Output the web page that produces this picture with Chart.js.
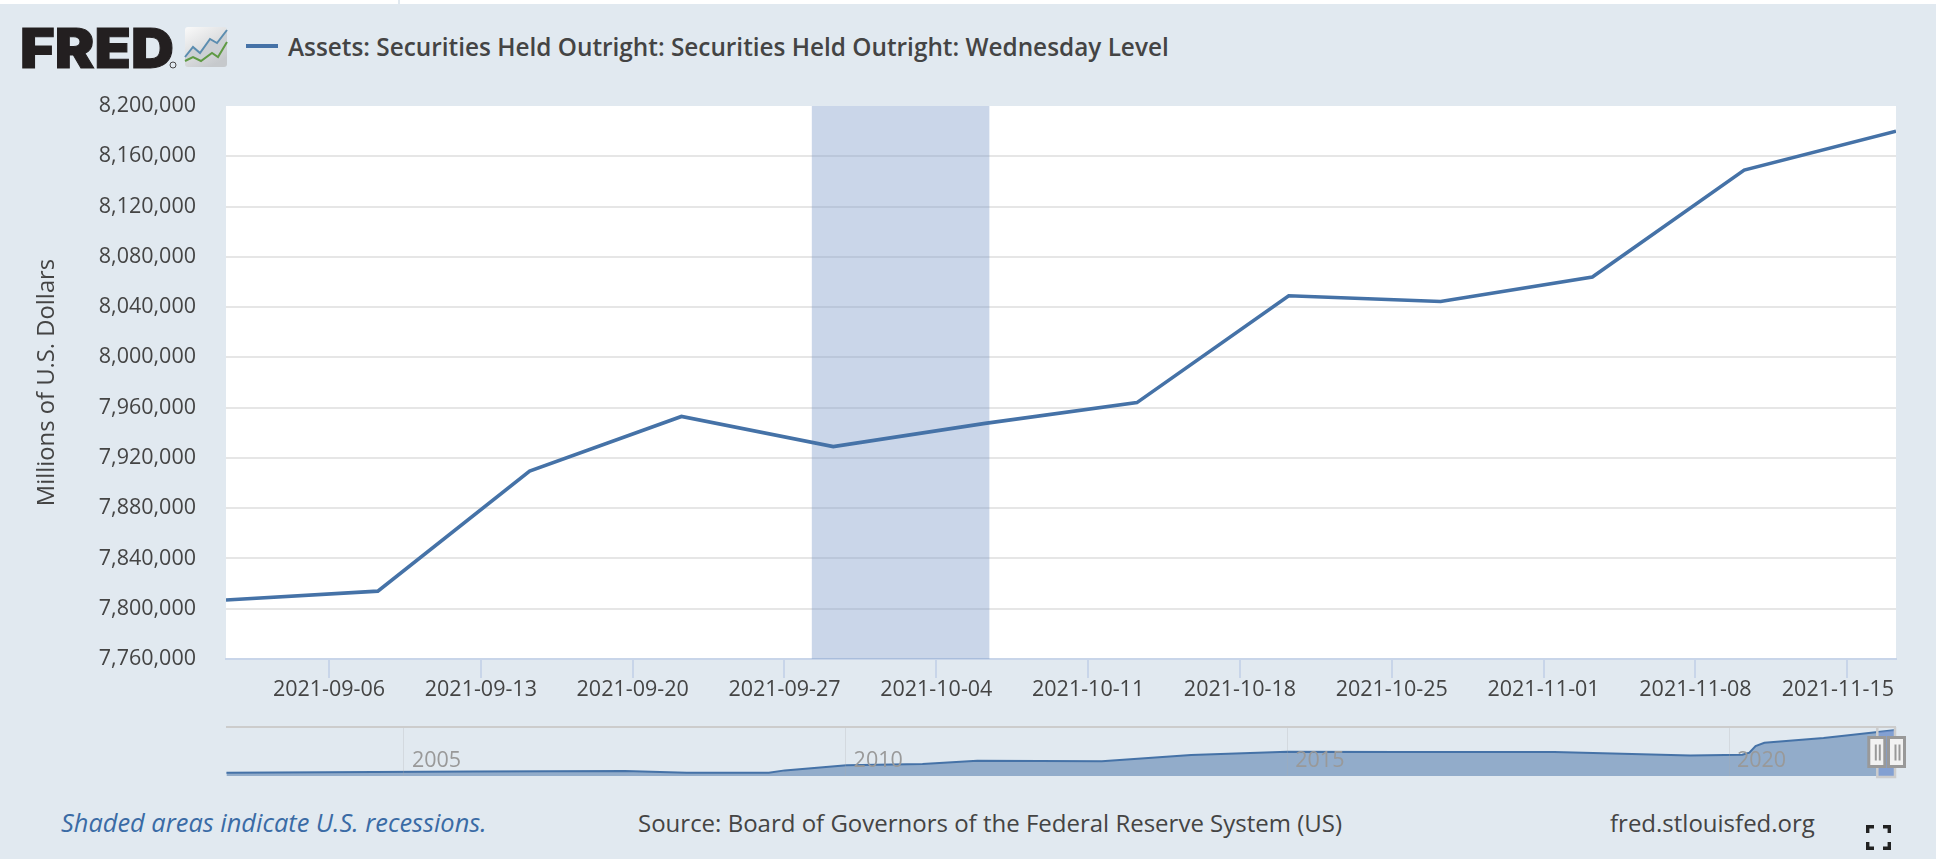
<!DOCTYPE html>
<html>
<head>
<meta charset="utf-8">
<title>FRED</title>
<script src="https://cdn.jsdelivr.net/npm/chart.js@4"></script>
<style>
html,body{margin:0;padding:0;background:#fff;width:1936px;height:859px;overflow:hidden;}
#wrap{position:absolute;left:0;top:4px;width:1936px;height:855px;background:#e1e9f0;}
#seam{position:absolute;left:398px;top:0;width:2px;height:4px;background:#e1e9f0;}
canvas{position:absolute;left:0;display:block;}
.txt{position:absolute;font-family:"Open Sans",sans-serif;color:#444;white-space:nowrap;line-height:1;}
#swatch{position:absolute;left:246px;top:44px;width:32px;height:4px;background:#4572a7;}
svg{position:absolute;}
</style>
</head>
<body>
<div id="seam"></div>
<div id="wrap"></div>

<svg style="left:0;top:0" width="240" height="90" viewBox="0 0 240 90">
  <defs><linearGradient id="g" x1="0" y1="0" x2="0.6" y2="1"><stop offset="0" stop-color="#fafafa"/><stop offset="1" stop-color="#c6c9cc"/></linearGradient></defs>
  <text x="20" y="67.5" font-family="Inter, Liberation Sans" font-weight="900" font-size="55" fill="#231f20" stroke="#231f20" stroke-width="1" textLength="154" lengthAdjust="spacingAndGlyphs">FRED</text>
  <circle cx="173" cy="65" r="3" fill="none" stroke="#231f20" stroke-width="0.8"/>
  <rect x="185" y="27" width="42" height="40" rx="3" fill="url(#g)"/>
  <polygon points="185,57 193,47 200,53 210,39 217,43 227,30 227,42 218,57 212,53 201,61 193,57 185,61" fill="#ccd0d4"/>
  <polyline points="185,57 193,47 200,53 210,39 217,43 227,30" fill="none" stroke="#5b8db0" stroke-width="2"/>
  <polyline points="185,61 193,57 201,61 212,53 218,57 227,42" fill="none" stroke="#5f9a44" stroke-width="2"/>
</svg>
<div id="swatch"></div>
<div class="txt" id="title" style="left:288px;top:35px;font-size:24.35px;font-weight:600;">Assets: Securities Held Outright: Securities Held Outright: Wednesday Level</div>

<canvas id="mainChart" width="1936" height="625" style="top:90px"></canvas>
<canvas id="navChart" width="1936" height="85" style="top:715px"></canvas>

<div class="txt" style="left:61px;top:810px;font-size:25.4px;font-style:italic;color:#3a6ba5;">Shaded areas indicate U.S. recessions.</div>
<div class="txt" style="left:638px;top:811px;font-size:24px;">Source: Board of Governors of the Federal Reserve System (US)</div>
<div class="txt" style="left:1610px;top:811px;font-size:24px;">fred.stlouisfed.org</div>
<svg style="left:1866px;top:825px" width="25" height="25" viewBox="0 0 25 25" fill="none" stroke="#222" stroke-width="3.4">
  <path d="M1.7 8V1.7H8M17 1.7H23.3V8M23.3 17V23.3H17M8 23.3H1.7V17"/>
</svg>

<script>
const dates=["2021-09-01","2021-09-08","2021-09-15","2021-09-22","2021-09-29","2021-10-06","2021-10-13","2021-10-20","2021-10-27","2021-11-03","2021-11-10","2021-11-17"];
const values=[7807000,7814000,7909500,7953000,7929000,7947500,7964000,8049000,8044500,8064000,8149000,8180000];
const tickDates=["2021-09-06","2021-09-13","2021-09-20","2021-09-27","2021-10-04","2021-10-11","2021-10-18","2021-10-25","2021-11-01","2021-11-08","2021-11-15"];
const bandDates=["2021-09-28","2021-10-06T05:00:00Z"];
const yTitle="Millions of U.S. Dollars";

const navYears=[2002.99,2005.78,2007.5,2008.2,2009.13,2009.31,2010.01,2010.87,2011.49,2012.9,2013.91,2015,2016.27,2018.02,2019.56,2020.15,2020.23,2020.3,2020.4,2021.07,2021.89];
const navValues=[590000,820000,890000,590000,590000,1000000,1900000,2140000,2720000,2620000,3720000,4320000,4270000,4270000,3640000,3800000,4150000,5340000,5920000,6760000,8180000];
const navTicks=[2005,2010,2015,2020];
const navSelYears=[2021.667,2021.89];
const navSelValues=[7807000,8180000];

const toDay=s=>Date.parse(s)/864e5;
const yMin=7760000,yMax=8200000;
const textCol="#444",axisCol="#c8d5e9";

Chart.defaults.font.family='"Open Sans", sans-serif';
Chart.defaults.font.size=21.5;
Chart.defaults.color=textCol;

// white plot background and the last date label, which sits flush right in the original
const mainExtras={
  id:"mainExtras",
  beforeDraw(c){
    const a=c.chartArea,x=c.ctx;
    x.save();x.fillStyle="#fff";x.fillRect(a.left,a.top,a.width,a.height);x.restore();
  },
  afterDraw(c){
    const a=c.chartArea,x=c.ctx;
    x.save();
    x.font='21.5px "Open Sans", sans-serif';
    x.fillStyle=textCol;x.textAlign="right";x.textBaseline="middle";
    x.fillText(tickDates[tickDates.length-1],a.right-2,a.bottom+31);
    x.restore();
  }
};

new Chart(document.getElementById("mainChart"),{
  type:"line",
  plugins:[mainExtras],
  data:{datasets:[
    {data:dates.map((d,i)=>({x:toDay(d),y:values[i]})),borderColor:"#4572a7",borderWidth:3.6,pointRadius:0,tension:0,order:1,clip:0,borderJoinStyle:"miter"},
    {data:bandDates.map(d=>({x:toDay(d),y:yMax})),borderWidth:0,pointRadius:0,fill:"start",backgroundColor:"rgba(122,152,200,0.4)",order:2}
  ]},
  options:{
    responsive:false,animation:false,
    layout:{autoPadding:false,padding:{top:16,right:40,bottom:0,left:0}},
    plugins:{legend:{display:false},tooltip:{enabled:false}},
    scales:{
      x:{type:"linear",min:toDay(dates[0]),max:toDay(dates[dates.length-1]),
        afterFit(s){s.height=56;s.paddingLeft=0;s.paddingRight=0;},
        afterBuildTicks(s){s.ticks=tickDates.map(d=>({value:toDay(d)-0.25}));},
        border:{color:axisCol,width:2},
        grid:{drawOnChartArea:false,drawTicks:true,tickLength:19,color:axisCol,lineWidth:2},
        ticks:{autoSkip:false,maxRotation:0,padding:-1,color:textCol,
          callback:(v,i)=>i==tickDates.length-1?"":tickDates[i]}
      },
      y:{min:yMin,max:yMax,
        afterFit(s){s.width=226;s.paddingTop=0;s.paddingBottom=0;},
        border:{display:false},
        grid:{drawTicks:false,lineWidth:2,color:c=>(c.tick.value==yMax||c.tick.value==yMin)?"rgba(0,0,0,0)":"#e6e6e6"},
        ticks:{stepSize:40000,padding:30,color:textCol,callback:v=>v.toLocaleString("en-US")},
        title:{display:true,text:yTitle,color:textCol,font:{size:23.8},padding:{top:33,bottom:0}}
      }
    }
  }
});

// navigator frame: top rule, selected range outline and the two drag handles
const navExtras={
  id:"navExtras",
  afterDraw(c){
    const a=c.chartArea,x=c.ctx,sx=c.scales.x;
    const l=sx.getPixelForValue(navSelYears[0]),r=sx.getPixelForValue(navSelYears[1]);
    x.save();
    x.strokeStyle="#ccc";x.lineWidth=2;
    x.beginPath();x.moveTo(a.left,a.top);x.lineTo(a.right,a.top);x.stroke();
    x.lineWidth=2.5;
    x.beginPath();x.moveTo(l+1,a.top);x.lineTo(l+1,a.bottom+1);x.lineTo(r-1,a.bottom+1);x.lineTo(r-1,a.top);x.stroke();
    [l,r].forEach(p=>{
      const hx=p-7.5,hy=a.top+10.5;
      x.fillStyle="#f2f2f2";x.strokeStyle="#999";x.lineWidth=3;
      x.fillRect(hx,hy,16,29);x.strokeRect(hx,hy,16,29);
      x.fillStyle="#999";
      x.fillRect(hx+6,hy+7,2,16);x.fillRect(hx+10,hy+7,2,16);
    });
    x.restore();
  }
};

new Chart(document.getElementById("navChart"),{
  type:"line",
  plugins:[navExtras],
  data:{datasets:[
    {data:navSelYears.map((v,i)=>({x:v,y:navSelValues[i]})),borderWidth:0,pointRadius:0,fill:"start",backgroundColor:"rgba(122,152,215,0.6)",order:1},
    {data:navYears.map((v,i)=>({x:v,y:navValues[i]})),borderColor:"#4572a7",borderWidth:2,pointRadius:0,tension:0,fill:"start",backgroundColor:"#92acca",order:2}
  ]},
  options:{
    responsive:false,animation:false,
    layout:{autoPadding:false,padding:{top:12,right:40,bottom:24,left:226}},
    plugins:{legend:{display:false},tooltip:{enabled:false}},
    scales:{
      x:{type:"linear",min:2002.985,max:2021.89,
        afterFit(s){s.height=0;},
        afterBuildTicks(s){s.ticks=navTicks.map(v=>({value:v}));},
        border:{display:false},
        grid:{z:1,drawTicks:false,color:"rgba(170,170,170,0.25)",lineWidth:1},
        ticks:{z:1,autoSkip:false,maxRotation:0,mirror:true,padding:2,labelOffset:32.5,color:"#999",callback:(v,i)=>String(navTicks[i])}
      },
      y:{display:false,min:0,max:8720000}
    }
  }
});
</script>
</body>
</html>
